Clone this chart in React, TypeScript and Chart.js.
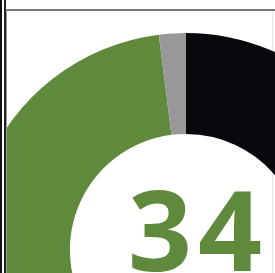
import React, { useEffect, useRef } from "react";
import { Chart, registerables } from "chart.js";

Chart.register(...registerables);

const labels = ["Black", "Green", "Gray"];
const values = [64, 34, 2];
const colors = ["#08080c", "#5f8a3b", "#98989b"];
const centerLabel = "34";

export default function App() {
  const ref = useRef<HTMLCanvasElement | null>(null);

  useEffect(() => {
    if (!ref.current) return;
    const textPlugin = {
      id: "centerText",
      afterDraw(chart: any) {
        const ctx = chart.ctx;
        const meta = chart.getDatasetMeta(0);
        const arc = meta.data[0];
        if (!arc) return;
        ctx.save();
        ctx.font = 'bold 112px "Open Sans"';
        (ctx as any).letterSpacing = "6px";
        ctx.fillStyle = "#5f8a3b";
        ctx.textAlign = "center";
        ctx.textBaseline = "alphabetic";
        ctx.fillText(centerLabel, arc.x + 12, arc.y + 21);
        ctx.restore();
      },
    };
    const chart = new Chart(ref.current, {
      type: "doughnut",
      data: {
        labels,
        datasets: [
          {
            data: values,
            backgroundColor: colors,
            borderWidth: 0,
          },
        ],
      },
      options: {
        responsive: false,
        animation: false,
        cutout: "53.5%",
        plugins: { legend: { display: false }, tooltip: { enabled: false } },
        layout: { padding: 0 },
      },
      plugins: [textPlugin],
    });
    return () => chart.destroy();
  }, []);

  return (
    <div
      style={{
        position: "fixed",
        left: 0,
        top: 0,
        width: 275,
        height: 273,
        background: "#fff",
        overflow: "hidden",
      }}
    >
      <div style={{ position: "absolute", left: 0, top: 0, width: 2, height: 273, background: "#111" }} />
      <div style={{ position: "absolute", left: 4, top: 0, width: 2, height: 273, background: "#222" }} />
      <div style={{ position: "absolute", left: 6, top: 9, width: 269, height: 2, background: "#777" }} />
      <div style={{ position: "absolute", left: 6, top: 9, width: 1, height: 264, background: "#999" }} />
      <div style={{ position: "absolute", left: 272, top: 11, width: 1, height: 262, background: "#e4e4e4" }} />
      <div
        style={{
          position: "absolute",
          left: 7,
          top: 11,
          width: 268,
          height: 262,
          overflow: "hidden",
        }}
      >
        <canvas
          ref={ref}
          width={434}
          height={434}
          style={{ position: "absolute", left: -38, top: 22, width: 434, height: 434 }}
        />
      </div>
    </div>
  );
}
